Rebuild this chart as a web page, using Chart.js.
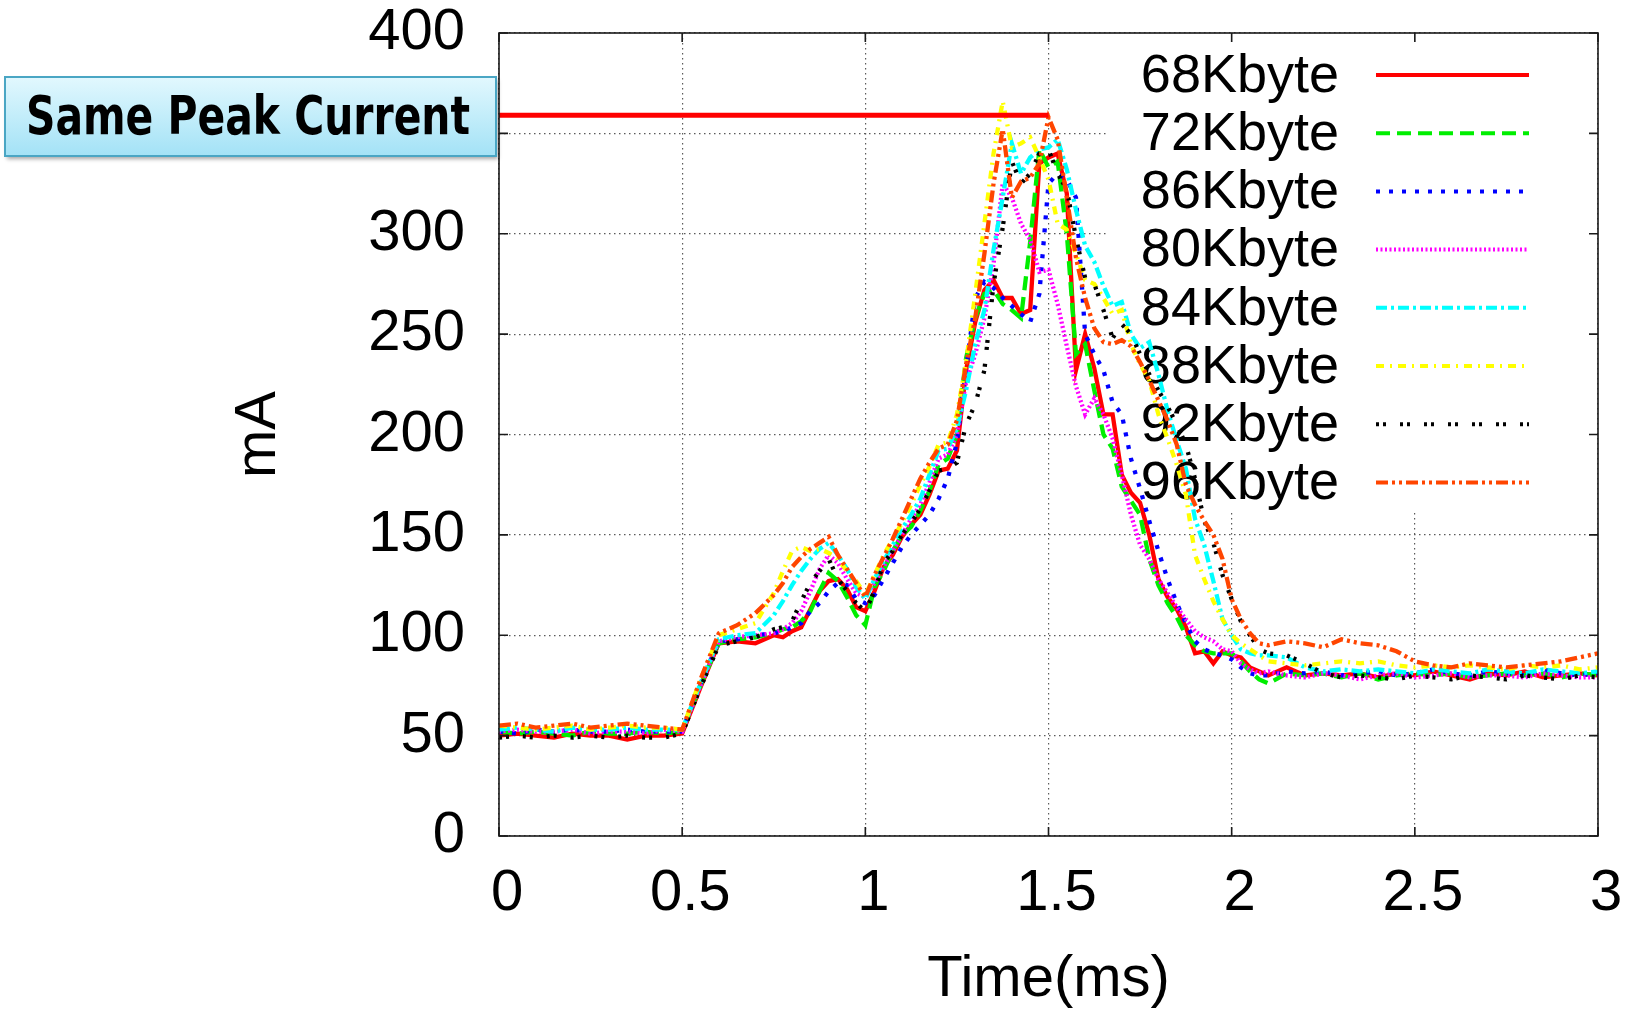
<!DOCTYPE html>
<html>
<head>
<meta charset="utf-8">
<title>Current vs time</title>
<script src="https://cdn.jsdelivr.net/npm/chart.js@4.4.1/dist/chart.umd.min.js"></script>
<style>
  html, body { margin: 0; padding: 0; background: #fff; }
  canvas { display: block; }
</style>
</head>
<body>
<canvas id="currentChart" width="1625" height="1012"></canvas>
<script>
// sample times (ms), shared by all traces
const timeMs = [
  0, 0.05, 0.1, 0.15, 0.2, 0.25, 0.3, 0.35, 0.4, 0.45,
  0.5, 0.55, 0.6, 0.65, 0.7, 0.75,
  0.775, 0.8, 0.825, 0.85, 0.875, 0.9, 0.925, 0.95, 0.975, 1.0,
  1.025, 1.05, 1.075, 1.1, 1.125, 1.15, 1.175, 1.2, 1.225, 1.25,
  1.275, 1.3, 1.325, 1.35, 1.375, 1.4, 1.425, 1.45, 1.475, 1.5,
  1.525, 1.55, 1.575, 1.6, 1.625, 1.65, 1.675, 1.7, 1.725, 1.75,
  1.775, 1.8, 1.825, 1.85, 1.875, 1.9, 1.925, 1.95, 1.975, 2.0,
  2.025, 2.05, 2.075, 2.1,
  2.15, 2.2, 2.25, 2.3, 2.35, 2.4, 2.45, 2.5, 2.55, 2.6, 2.65, 2.7, 2.75, 2.8, 2.85, 2.9, 2.95, 3.0
];

// current draw in mA for each buffer size
const kb68 = [
  50, 51, 50, 49, 51, 50, 50, 48, 50, 50,
  51, 74, 96, 97, 96, 100,
  99, 102, 104, 113, 122, 127, 128, 123, 114, 112,
  122, 134, 140, 149, 155, 160, 170, 182, 183, 192,
  232, 256, 272, 277, 268, 268, 260, 262, 335, 338,
  340, 320, 232, 250, 233, 210, 210, 180, 171, 166,
  150, 128, 119, 113, 104, 91, 92, 86, 92, 90,
  89, 84, 82, 80,
  84, 80, 81, 80, 81, 79, 81, 80, 82, 80, 78, 81, 80, 82, 79, 80, 81, 80
];
const kb72 = [
  52, 51, 52, 51, 50, 52, 51, 51, 52, 51,
  52, 75, 96, 98, 99, 101,
  103, 104, 107, 112, 122, 131, 127, 119, 110, 105,
  124, 132, 142, 150, 154, 162, 172, 185, 188, 200,
  238, 258, 270, 272, 265, 262, 258, 296, 342, 333,
  336, 300, 240, 245, 222, 200, 193, 174, 167, 160,
  138, 125, 116, 109, 100, 95, 92, 91, 91, 91,
  87, 82, 78, 76,
  81, 80, 81, 79, 81, 78, 80, 81, 80, 81, 79, 80, 81, 80, 81, 79, 81, 80
];
const kb86 = [
  52, 51, 53, 52, 53, 52, 52, 53, 52, 52,
  52, 76, 97, 98, 100, 101,
  102, 104, 106, 112, 116, 122, 126, 125, 118, 116,
  120, 128, 136, 144, 150, 155, 160, 168, 178, 196,
  232, 268, 276, 273, 268, 264, 260, 256, 270, 325,
  330, 327, 318, 250, 240, 232, 216, 210, 188, 173,
  157, 142, 128, 116, 106, 97, 93, 91, 90, 88,
  84, 81, 80, 80,
  82, 81, 82, 80, 81, 82, 80, 81, 83, 81, 80, 82, 81, 80, 83, 81, 80, 81
];
const kb80 = [
  52, 53, 52, 52, 53, 51, 52, 52, 51, 53,
  52, 75, 97, 99, 100, 101,
  103, 106, 112, 122, 133, 140, 136, 128, 121, 119,
  126, 134, 142, 150, 158, 165, 176, 188, 190, 200,
  226, 240, 258, 285, 325, 318, 305, 297, 281, 282,
  265, 244, 224, 210, 218, 210, 198, 180, 160, 145,
  138, 128, 121, 114, 108, 102, 99, 97, 93, 92,
  86, 83, 81, 82,
  80, 79, 81, 80, 78, 80, 81, 79, 80, 81, 79, 80, 80, 79, 81, 80, 79, 79
];
const kb84 = [
  53, 54, 53, 52, 54, 53, 53, 54, 53, 53,
  53, 76, 98, 100, 101, 110,
  117, 125, 132, 138, 143, 146, 140, 133, 124, 118,
  128, 137, 145, 153, 160, 168, 180, 192, 193, 203,
  222, 245, 262, 292, 318, 345, 330, 338, 342, 343,
  347, 332, 312, 294, 286, 274, 264, 266, 250, 243,
  246, 230, 212, 197, 183, 158, 145, 127, 108, 100,
  93, 91, 90, 90,
  89, 84, 82, 83, 82, 83, 82, 81, 83, 82, 81, 83, 82, 81, 83, 82, 81, 82
];
const kb88 = [
  55, 54, 53, 54, 55, 53, 54, 55, 54, 54,
  53, 78, 100, 103, 106, 121,
  132, 142, 144, 142, 143, 141, 138, 132, 127, 120,
  130, 140, 148, 156, 165, 175, 184, 195, 196, 210,
  236, 270, 305, 340, 366, 343, 345, 348, 338, 327,
  305, 302, 290, 277, 275, 268, 260, 262, 245, 235,
  227, 210, 198, 185, 170, 140, 128, 117, 108, 100,
  96, 93, 90, 87,
  86, 85, 86, 87, 86, 87, 85, 84, 85, 84, 85, 84, 83, 85, 84, 85, 83, 84
];
const kb92 = [
  49, 50, 49, 50, 49, 50, 49, 50, 49, 49,
  51, 74, 95, 97, 99, 103,
  104, 107, 117, 126, 132, 138, 128, 122, 116, 112,
  122, 136, 142, 150, 156, 163, 172, 182, 183, 186,
  205, 215, 232, 275, 303, 336, 325, 330, 340, 342,
  330, 322, 298, 278, 275, 262, 248, 255, 250, 240,
  230, 222, 214, 205, 195, 178, 157, 146, 130, 118,
  107, 100, 93, 91,
  90, 86, 81, 79, 80, 79, 78, 80, 79, 78, 80, 79, 78, 80, 79, 78, 80, 79
];
const kb96 = [
  55, 56, 54, 55, 56, 54, 55, 56, 55, 54,
  53, 78, 101, 105, 111, 120,
  126, 134, 139, 143, 146, 149, 140, 133, 126, 119,
  130, 139, 148, 158, 168, 178, 186, 193, 195, 207,
  235, 258, 290, 325, 352, 318, 326, 328, 335, 358,
  347, 318, 288, 268, 253, 246, 245, 247, 244, 236,
  227, 217, 207, 195, 175, 165, 157, 150, 138, 118,
  108, 101, 96, 95,
  97, 96, 94, 98, 96, 95, 92, 87, 85, 84, 86, 85, 84, 85, 86, 87, 89, 91
];

const seriesNames = ['68Kbyte', '72Kbyte', '86Kbyte', '80Kbyte', '84Kbyte', '88Kbyte', '92Kbyte', '96Kbyte'];
const seriesValues = [kb68, kb72, kb86, kb80, kb84, kb88, kb92, kb96];

// common peak marked by the red bar
const peakLevel = 359;
const peakEnd = 1.5;
const calloutText = 'Same Peak Current';

const xTicks = [0, 0.5, 1, 1.5, 2, 2.5, 3];
const yTicks = [0, 50, 100, 150, 200, 250, 300, 350, 400];

// gnuplot-like colours and dash styles
const lineStyles = [
  { color: '#ff0000', dash: [] },
  { color: '#00ee00', dash: [14, 7] },
  { color: '#0000ff', dash: [4, 9] },
  { color: '#ff00ff', dash: [2, 2.5] },
  { color: '#00ffff', dash: [11, 4, 3, 4] },
  { color: '#ffff00', dash: [8, 6, 2, 6] },
  { color: '#000000', dash: [3, 4, 3, 14] },
  { color: '#ff4500', dash: [12, 4, 3, 4, 3, 4] }
];

const FONT = '"Liberation Sans", Arial, Helvetica, sans-serif';

const datasets = seriesNames.map((name, i) => ({
  label: name,
  data: timeMs.map((t, k) => ({ x: t, y: seriesValues[i][k] })),
  borderColor: lineStyles[i].color,
  borderDash: lineStyles[i].dash,
  borderWidth: 4.3,
  pointRadius: 0,
  tension: 0,
  fill: false,
  inKey: true,
  order: seriesNames.length - i + 1
}));

datasets.push({
  label: 'peak',
  data: [{ x: 0, y: peakLevel }, { x: peakEnd, y: peakLevel }],
  borderColor: '#ff0000',
  borderWidth: 5,
  pointRadius: 0,
  fill: false,
  inKey: false,
  order: 0
});

// key drawn inside the plot, text on the left and sample on the right
const keyPlugin = {
  id: 'keyBox',
  beforeDatasetsDraw(chart) {
    const { ctx, chartArea: area } = chart;
    const rows = chart.data.datasets.filter(d => d.inKey);
    ctx.save();
    ctx.fillStyle = '#fff';
    ctx.fillRect(area.right - 490, area.top + 1, 489, 477);
    ctx.font = '54px ' + FONT;
    ctx.textAlign = 'right';
    ctx.textBaseline = 'middle';
    rows.forEach((ds, i) => {
      const y = area.top + 42 + i * 58.2;
      ctx.fillStyle = '#000';
      ctx.fillText(ds.label, area.right - 259, y + 2);
      ctx.strokeStyle = ds.borderColor;
      ctx.lineWidth = 4;
      ctx.setLineDash(ds.borderDash);
      ctx.beginPath();
      ctx.moveTo(area.right - 222, y);
      ctx.lineTo(area.right - 69, y);
      ctx.stroke();
    });
    ctx.restore();
  }
};

// plot border with inward tick marks on all sides
const framePlugin = {
  id: 'frame',
  afterDatasetsDraw(chart) {
    const { ctx, chartArea: a, scales } = chart;
    ctx.save();
    ctx.strokeStyle = '#1a1a1a';
    ctx.lineWidth = 1.6;
    ctx.setLineDash([]);
    ctx.strokeRect(a.left, a.top, a.right - a.left, a.bottom - a.top);
    ctx.beginPath();
    xTicks.forEach(v => {
      const px = scales.x.getPixelForValue(v);
      ctx.moveTo(px, a.bottom); ctx.lineTo(px, a.bottom - 9);
      ctx.moveTo(px, a.top); ctx.lineTo(px, a.top + 9);
    });
    yTicks.forEach(v => {
      const py = scales.y.getPixelForValue(v);
      ctx.moveTo(a.left, py); ctx.lineTo(a.left + 9, py);
      ctx.moveTo(a.right, py); ctx.lineTo(a.right - 9, py);
    });
    ctx.stroke();
    ctx.restore();
  }
};

// blue label box beside the peak bar
const calloutPlugin = {
  id: 'peakCallout',
  afterDraw(chart) {
    const ctx = chart.ctx;
    const bx = 5, by = 77, bw = 491, bh = 79;
    ctx.save();
    ctx.shadowColor = 'rgba(0,0,0,0.35)';
    ctx.shadowBlur = 4;
    ctx.shadowOffsetX = 2;
    ctx.shadowOffsetY = 3;
    const grad = ctx.createLinearGradient(0, by, 0, by + bh);
    grad.addColorStop(0, '#e2f8fe');
    grad.addColorStop(1, '#a3e2f6');
    ctx.fillStyle = grad;
    ctx.fillRect(bx, by, bw, bh);
    ctx.shadowColor = 'transparent';
    ctx.strokeStyle = '#4aa6c4';
    ctx.lineWidth = 2;
    ctx.strokeRect(bx, by, bw, bh);
    ctx.font = 'bold 53px "DejaVu Sans", sans-serif';
    const w = ctx.measureText(calloutText).width;
    ctx.translate(26, 134);
    ctx.scale(444 / w, 1);
    ctx.fillStyle = '#000';
    ctx.textBaseline = 'alphabetic';
    ctx.fillText(calloutText, 0, 0);
    ctx.restore();
  }
};

const ctx = document.getElementById('currentChart').getContext('2d');
new Chart(ctx, {
  type: 'line',
  data: { datasets },
  options: {
    responsive: false,
    animation: false,
    layout: { padding: { left: 230, top: 33, right: 27, bottom: 0 } },
    plugins: {
      legend: { display: false },
      tooltip: { enabled: false }
    },
    scales: {
      x: {
        type: 'linear',
        min: 0,
        max: 3,
        afterBuildTicks: axis => { axis.ticks = xTicks.map(v => ({ value: v })); },
        // fixed axis band, labels may overhang the plot edges
        afterFit: axis => {
          axis.height = 176;
          axis.paddingLeft = 0;
          axis.paddingRight = 0;
        },
        grid: { color: '#5a5a5a', lineWidth: 1.2, drawTicks: false },
        border: { display: false, dash: [1.5, 3.5] },
        ticks: {
          color: '#000',
          padding: 26,
          maxRotation: 0,
          autoSkip: false,
          font: { family: FONT, size: 58, lineHeight: 1.1 },
          callback: v => ' ' + v
        },
        title: {
          display: true,
          text: 'Time(ms)',
          color: '#000',
          font: { family: FONT, size: 58, lineHeight: 1.0 },
          padding: { top: 0, bottom: 3 }
        }
      },
      y: {
        type: 'linear',
        min: 0,
        max: 400,
        afterBuildTicks: axis => { axis.ticks = yTicks.map(v => ({ value: v })); },
        afterFit: axis => {
          axis.width = 269;
          axis.paddingTop = 0;
          axis.paddingBottom = 0;
        },
        grid: { color: '#5a5a5a', lineWidth: 1.2, drawTicks: false },
        border: { display: false, dash: [1.5, 3.5] },
        ticks: {
          color: '#000',
          padding: 34,
          font: { family: FONT, size: 58, lineHeight: 1.1 }
        },
        title: {
          display: true,
          text: 'mA',
          color: '#000',
          font: { family: FONT, size: 58, lineHeight: 1.0 },
          padding: { top: 0, bottom: 0 }
        }
      }
    }
  },
  plugins: [keyPlugin, framePlugin, calloutPlugin]
});
</script>
</body>
</html>
